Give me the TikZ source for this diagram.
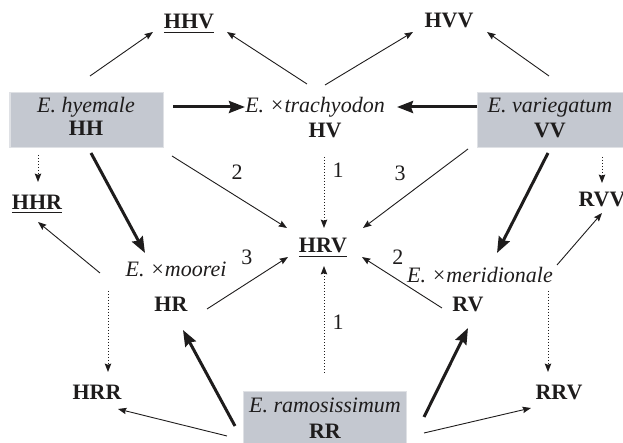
\documentclass[tikz,border=0pt]{standalone}
\usepackage{fontspec}
\setmainfont{Liberation Serif}
\usetikzlibrary{arrows.meta}
\definecolor{boxgray}{RGB}{196,200,208}
\definecolor{ink}{RGB}{30,28,28}
\begin{document}
\begin{tikzpicture}[x=0.5pt,y=-0.5pt,
  every node/.style={inner sep=0pt, outer sep=0pt, text=ink},
  bl/.style={anchor=base, font=\fontsize{11}{13}\selectfont\bfseries},
  sp/.style={anchor=base, font=\fontsize{11}{13}\selectfont\itshape},
  num/.style={anchor=base, font=\fontsize{11}{13}\selectfont},
  gbox/.style={fill=boxgray, draw=boxgray!55!white, line width=0.5pt},
  thinarr/.style={draw=ink, line width=0.45pt, -{Stealth[length=4.2pt,width=3.2pt,inset=0.6pt]}},
  thickarr/.style={draw=ink, line width=1.5pt, -{Stealth[length=8pt,width=6pt,inset=1pt]}},
  dotarr/.style={draw=ink, line width=0.5pt, densely dotted, -{Stealth[length=4.2pt,width=3.2pt,inset=0.6pt]}}
]
\useasboundingbox (0,0) rectangle (623,443);
% boxes
\path[gbox] (10,93) rectangle (163,148);
\path[gbox] (477,93) rectangle (623,148);
\path[gbox] (243,392) rectangle (406,450);
% nodes
\node[bl] (hhv) at (189,29) {\underline{HHV}};
\node[bl] (hvv) at (449,28) {HVV};
\node[sp] (hyem) at (86,113) {E. hyemale};
\node[bl] (hh) at (86,136) {HH};
\node[sp] (trach) at (315,113) {E. ×trachyodon};
\node[bl] (hv) at (325,138) {HV};
\node[sp] (varie) at (550,113) {E. variegatum};
\node[bl] (vv) at (550,138) {VV};
\node[bl] (hhr) at (37,210) {\underline{HHR}};
\node[bl] (rvv) at (602,207) {RVV};
\node[bl] (hrv) at (323,253) {\underline{HRV}};
\node[sp] (moor) at (176,277) {E. ×moorei};
\node[bl] (hr) at (171,312) {HR};
\node[sp] (merid) at (480,283) {E. ×meridionale};
\node[bl] (rv) at (468,312) {RV};
\node[bl] (hrr) at (97,400) {HRR};
\node[bl] (rrv) at (559,400) {RRV};
\node[sp] (ramo) at (325,413) {E. ramosissimum};
\node[bl] (rr) at (325,439) {RR};
% numbers
\node[num] (n2a) at (237,180) {2};
\node[num] (n1a) at (338,178) {1};
\node[num] (n3a) at (400,181) {3};
\node[num] (n3b) at (247,265) {3};
\node[num] (n2b) at (398,265) {2};
\node[num] (n1b) at (338,330) {1};
% connector end points
\path (90,76) coordinate (hh-a) (153,32) coordinate (hhv-a)
      (307,84) coordinate (hv-a) (227,32) coordinate (hhv-b)
      (325,85) coordinate (hv-b) (413,32) coordinate (hvv-a)
      (549,76) coordinate (vv-a) (487,32) coordinate (hvv-b)
      (173,107) coordinate (hh-b) (245,107) coordinate (hv-c)
      (477,107) coordinate (vv-b) (397,107) coordinate (hv-d)
      (38,155) coordinate (hh-c) (38,182) coordinate (hhr-a)
      (602,157) coordinate (vv-c) (602,183) coordinate (rvv-a)
      (172,156) coordinate (hh-d) (287,228) coordinate (hrv-a)
      (324,157) coordinate (hv-e) (324,228) coordinate (hrv-b)
      (468,149) coordinate (vv-d) (363,228) coordinate (hrv-c)
      (91,153) coordinate (hh-e) (145,253) coordinate (hr-a)
      (548,153) coordinate (vv-e) (497,253) coordinate (rv-a)
      (100,273) coordinate (hr-b) (38,222) coordinate (hhr-b)
      (557,265) coordinate (rv-b) (602,213) coordinate (rvv-b)
      (207,309) coordinate (hr-c) (288,257) coordinate (hrv-d)
      (442,308) coordinate (rv-c) (362,257) coordinate (hrv-e)
      (108,291) coordinate (hr-d) (108,372) coordinate (hrr-a)
      (548,291) coordinate (rv-d) (548,372) coordinate (rrv-a)
      (324,373) coordinate (rr-a) (324,266) coordinate (hrv-f)
      (235,426) coordinate (rr-b) (183,330) coordinate (hr-e)
      (424,417) coordinate (rr-c) (468,328) coordinate (rv-e)
      (227,436) coordinate (rr-d) (118,409) coordinate (hrr-b)
      (424,433) coordinate (rr-e) (531,408) coordinate (rrv-b);
% connectors
\draw[thinarr] (hh-a) -- (hhv-a);
\draw[thinarr] (hv-a) -- (hhv-b);
\draw[thinarr] (hv-b) -- (hvv-a);
\draw[thinarr] (vv-a) -- (hvv-b);
\draw[thickarr] (hh-b) -- (hv-c);
\draw[thickarr] (vv-b) -- (hv-d);
\draw[dotarr] (hh-c) -- (hhr-a);
\draw[dotarr] (vv-c) -- (rvv-a);
\draw[thinarr] (hh-d) -- (hrv-a);
\draw[dotarr] (hv-e) -- (hrv-b);
\draw[thinarr] (vv-d) -- (hrv-c);
\draw[thickarr] (hh-e) -- (hr-a);
\draw[thickarr] (vv-e) -- (rv-a);
\draw[thinarr] (hr-b) -- (hhr-b);
\draw[thinarr] (rv-b) -- (rvv-b);
\draw[thinarr] (hr-c) -- (hrv-d);
\draw[thinarr] (rv-c) -- (hrv-e);
\draw[dotarr] (hr-d) -- (hrr-a);
\draw[dotarr] (rv-d) -- (rrv-a);
\draw[dotarr] (rr-a) -- (hrv-f);
\draw[thickarr] (rr-b) -- (hr-e);
\draw[thickarr] (rr-c) -- (rv-e);
\draw[thinarr] (rr-d) -- (hrr-b);
\draw[thinarr] (rr-e) -- (rrv-b);
\end{tikzpicture}
\end{document}
